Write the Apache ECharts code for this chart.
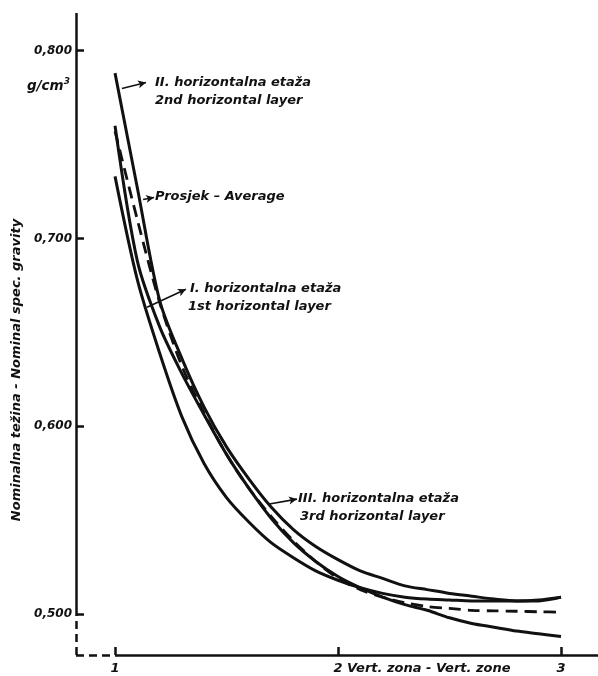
<!DOCTYPE html>
<html>
<head>
<meta charset="utf-8">
<script src="https://cdn.jsdelivr.net/npm/echarts@6/dist/echarts.min.js"></script>
<style>html,body{margin:0;padding:0;background:#fff}#c{width:598px;height:676px}</style>
</head>
<body>
<div id="c"></div>
<script>
// Vertical zone positions (x) shared by all curves
const zoneX = [1.0, 1.1, 1.2, 1.3, 1.4, 1.5, 1.6, 1.7, 1.8, 1.9, 2.0, 2.1, 2.2, 2.3, 2.4, 2.5, 2.6, 2.7, 2.8, 2.9, 3.0];
// II. horizontalna etaža – 2nd horizontal layer
const layer2 = [0.788, 0.727, 0.667, 0.636, 0.610, 0.589, 0.572, 0.557, 0.545, 0.536, 0.529, 0.523, 0.519, 0.515, 0.513, 0.511, 0.5095, 0.508, 0.507, 0.507, 0.509];
// I. horizontalna etaža – 1st horizontal layer
const layer1 = [0.733, 0.678, 0.639, 0.605, 0.580, 0.562, 0.549, 0.538, 0.530, 0.523, 0.518, 0.514, 0.511, 0.509, 0.508, 0.5075, 0.507, 0.507, 0.507, 0.5075, 0.509];
// III. horizontalna etaža – 3rd horizontal layer
const layer3 = [0.760, 0.688, 0.653, 0.628, 0.606, 0.585, 0.567, 0.551, 0.538, 0.528, 0.520, 0.514, 0.509, 0.505, 0.502, 0.498, 0.495, 0.493, 0.491, 0.4895, 0.488];
// Prosjek – Average
const average = [0.757, 0.710, 0.666, 0.632, 0.607, 0.585, 0.567, 0.552, 0.539, 0.528, 0.519, 0.513, 0.509, 0.506, 0.504, 0.503, 0.502, 0.5017, 0.5015, 0.5012, 0.501];

const yTicks = [0.5, 0.6, 0.7, 0.8];
const xTicks = [1, 2, 3];
const xMin = 0.825, xMax = 3.166, yMin = 0.4782, yMax = 0.82;

const FONT = 'DejaVu Sans';
const ink = '#111';
const LABEL_FONT = 'italic bold 13px "DejaVu Sans"';

function pairs(ys) { return zoneX.map((x, i) => [x, ys[i]]); }

function curve(name, ys, dashed) {
  return {
    name, type: 'line', data: pairs(ys), smooth: 0.3, showSymbol: false, symbol: 'none',
    lineStyle: dashed ? { color: ink, width: 2.8, type: [12, 7] } : { color: ink, width: 3 },
    silent: true, z: 3
  };
}

// Leader arrows (data coordinates: from curve to label)
const leaders = [
  [[1.031, 0.7798], [1.139, 0.7830]],
  [[1.126, 0.7207], [1.175, 0.7218]],
  [[1.1435, 0.6633], [1.318, 0.6729]],
  [[1.686, 0.5585], [1.816, 0.5612]]
];

const option = {
  animation: false,
  backgroundColor: '#fff',
  grid: { left: 76, right: 0, top: 13, bottom: 21 },
  xAxis: {
    type: 'value', min: xMin, max: xMax,
    axisLine: { show: false },
    splitLine: { show: false },
    axisTick: { show: true, inside: true, length: 8, customValues: xTicks, lineStyle: { color: ink, width: 2.5 } },
    axisLabel: { customValues: xTicks, margin: 7, color: ink, fontFamily: FONT, fontStyle: 'italic', fontWeight: 'bold', fontSize: 13, formatter: v => String(Math.round(v)) }
  },
  yAxis: {
    type: 'value', min: yMin, max: yMax,
    axisLine: { show: false },
    splitLine: { show: false },
    axisTick: { show: true, inside: true, length: 8, customValues: yTicks, lineStyle: { color: ink, width: 2.5 } },
    axisLabel: { customValues: yTicks, margin: 4, color: ink, fontFamily: FONT, fontStyle: 'italic', fontWeight: 'bold', fontSize: 12, formatter: v => v.toFixed(3).replace('.', ',') }
  },
  series: [
    curve('II. horizontalna etaža', layer2, false),
    curve('I. horizontalna etaža', layer1, false),
    curve('III. horizontalna etaža', layer3, false),
    curve('Prosjek', average, true),
    {
      type: 'line', data: [], clip: false, silent: true,
      markLine: {
        silent: true, symbol: ['none', 'none'], animation: false, label: { show: false },
        data: [
          [{ coord: [xMin, 0.5], lineStyle: { color: ink, width: 2.5, type: 'solid' } }, { coord: [xMin, yMax] }],
          [{ coord: [xMin, yMin], lineStyle: { color: ink, width: 2.5, type: [8, 5] } }, { coord: [xMin, 0.5] }],
          [{ coord: [xMin, yMin], lineStyle: { color: ink, width: 2.5, type: [8, 5] } }, { coord: [1, yMin] }],
          [{ coord: [1, yMin], lineStyle: { color: ink, width: 2.5, type: 'solid' } }, { coord: [xMax, yMin] }]
        ]
      }
    },
    {
      type: 'line', data: [], clip: false, silent: true,
      markLine: {
        silent: true, symbol: ['none', 'arrow'], symbolSize: [6, 8], animation: false, label: { show: false },
        lineStyle: { color: ink, width: 1.6, type: 'solid' },
        data: leaders.map(l => [{ coord: l[0] }, { coord: l[1] }])
      }
    }
  ],
  graphic: [
    { type: 'text', x: 27, y: 86, style: {
        text: 'g/cm{s|3}', fill: ink, verticalAlign: 'middle',
        font: 'italic bold 13.5px "DejaVu Sans"',
        rich: { s: { font: 'italic bold 9px "DejaVu Sans"', fill: ink, padding: [0, 0, 8, 0] } }
      } },
    { type: 'text', x: 17, y: 370, rotation: Math.PI / 2, style: { text: 'Nominalna težina - Nominal spec. gravity', font: 'italic bold 13px "DejaVu Sans"', fill: ink, align: 'center', verticalAlign: 'middle' } },
    { type: 'text', x: 155, y: 83, style: { text: 'II. horizontalna etaža', font: LABEL_FONT, fill: ink, verticalAlign: 'middle' } },
    { type: 'text', x: 155, y: 101, style: { text: '2nd horizontal layer', font: LABEL_FONT, fill: ink, verticalAlign: 'middle' } },
    { type: 'text', x: 155, y: 197, style: { text: 'Prosjek – Average', font: LABEL_FONT, fill: ink, verticalAlign: 'middle' } },
    { type: 'text', x: 190, y: 289, style: { text: 'I. horizontalna etaža', font: LABEL_FONT, fill: ink, verticalAlign: 'middle' } },
    { type: 'text', x: 188, y: 307, style: { text: '1st horizontal layer', font: LABEL_FONT, fill: ink, verticalAlign: 'middle' } },
    { type: 'text', x: 298, y: 499, style: { text: 'III. horizontalna etaža', font: LABEL_FONT, fill: ink, verticalAlign: 'middle' } },
    { type: 'text', x: 300, y: 517, style: { text: '3rd horizontal layer', font: LABEL_FONT, fill: ink, verticalAlign: 'middle' } },
    { type: 'text', x: 347, y: 669, style: { text: 'Vert. zona - Vert. zone', font: LABEL_FONT, fill: ink, verticalAlign: 'middle' } }
  ]
};

const chart = echarts.init(document.getElementById('c'), null, { renderer: 'canvas' });
chart.setOption(option);
</script>
</body>
</html>
